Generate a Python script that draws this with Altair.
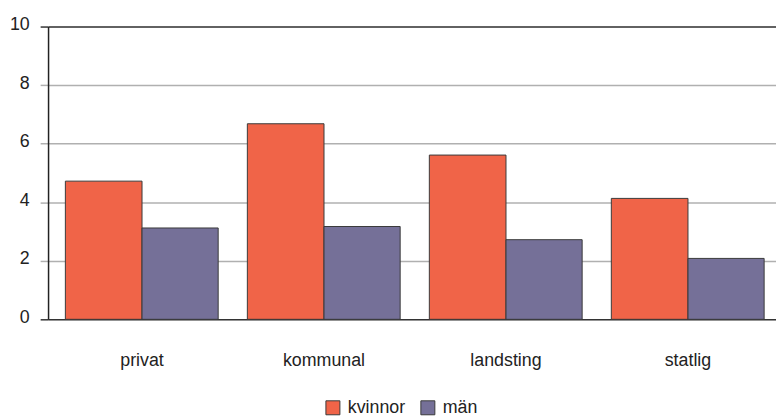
import altair as alt
import pandas as pd

categories = ["privat", "kommunal", "landsting", "statlig"]
kvinnor = [4.72, 6.68, 5.61, 4.13]
man = [3.12, 3.17, 2.72, 2.08]
series = ["kvinnor", "män"]
colors = ["#F06448", "#757098"]

df_k = pd.DataFrame({"sektor": categories, "kon": "kvinnor", "varde": kvinnor})
df_m = pd.DataFrame({"sektor": categories, "kon": "män", "varde": man})

FONT = "'Liberation Sans', Arial, sans-serif"

dark_cond = {"condition": {"test": "datum.value === 0 || datum.value === 10", "value": "#333333"}, "value": "#b0b0b0"}

x_enc = alt.X("sektor:N", sort=categories, title=None,
              scale=alt.Scale(paddingInner=0, paddingOuter=0),
              axis=alt.Axis(labelAngle=0, ticks=False, tickSize=0, domain=False, grid=False,
                            labelPadding=47, labelBaseline="alphabetic", labelOffset=3,
                            labelFont=FONT, labelFontSize=18, labelColor="#222222"))
y_enc = alt.Y("varde:Q", title=None,
              scale=alt.Scale(domain=[0, 10], nice=False),
              axis=alt.Axis(values=[0, 2, 4, 6, 8, 10], grid=True,
                            gridColor=dark_cond, tickColor=dark_cond, gridWidth=1.5,
                            tickSize=8, tickWidth=1.5, labelPadding=11, labelOffset=-2,
                            domainColor="#222222", domainWidth=1.5,
                            labelFont=FONT, labelFontSize=18, labelColor="#222222"))
color_enc = alt.Color("kon:N", sort=series, title=None,
                      scale=alt.Scale(domain=series, range=colors),
                      legend=alt.Legend(orient="none", direction="horizontal",
                                        legendX=279, legendY=376,
                                        symbolType="square", symbolSize=200,
                                        symbolStrokeColor="#3a3a3a", symbolStrokeWidth=1,
                                        symbolOpacity=1,
                                        labelFont=FONT, labelFontSize=18, labelColor="#222222",
                                        labelOffset=6, columnPadding=12))

bars_k = alt.Chart(df_k).mark_bar(stroke="#3a3a3a", strokeWidth=1, width=77.5, xOffset=-35.75).encode(
    x=x_enc, y=y_enc, color=color_enc)
bars_m = alt.Chart(df_m).mark_bar(stroke="#3a3a3a", strokeWidth=1, width=77, xOffset=41.5).encode(
    x=x_enc, y=y_enc, color=color_enc)

chart = alt.layer(bars_k, bars_m).properties(
    width=736,
    height=296,
    autosize=alt.AutoSizeParams(type="none"),
    padding={"left": 40.5, "top": 16.5, "right": 0, "bottom": 96},
).configure_view(stroke=None).configure(background="white")

chart.save("out.html", embed_options={"renderer": "svg", "actions": False})
